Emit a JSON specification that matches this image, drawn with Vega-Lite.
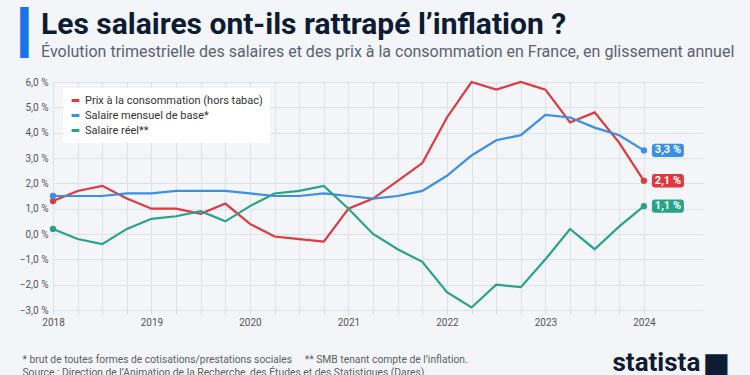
{
  "$schema": "https://vega.github.io/schema/vega-lite/v6.json",
  "autosize": {"type": "none"},
  "width": 650,
  "height": 228,
  "padding": {"left": 53, "top": 82, "right": 47, "bottom": 65},
  "background": "#f3f5f9",
  "config": {"view": {"stroke": null}, "font": "Roboto"},
  "title": {
    "text": "Les salaires ont-ils rattrapé l’inflation ?",
    "subtitle": "Évolution trimestrielle des salaires et des prix à la consommation en France, en glissement annuel",
    "anchor": "start",
    "frame": "group",
    "dx": -12,
    "dy": 48,
    "offset": 0,
    "font": "Roboto",
    "fontSize": 30,
    "fontWeight": 700,
    "color": "#0d1b33",
    "subtitleFont": "Roboto",
    "subtitleFontSize": 16,
    "subtitleColor": "#5b6270",
    "subtitlePadding": 4
  },
  "data": {
    "values": [
      {"t": 2018, "s": "Prix à la consommation (hors tabac)", "v": 1.3},
      {"t": 2018.25, "s": "Prix à la consommation (hors tabac)", "v": 1.7},
      {"t": 2018.5, "s": "Prix à la consommation (hors tabac)", "v": 1.9},
      {"t": 2018.75, "s": "Prix à la consommation (hors tabac)", "v": 1.4},
      {"t": 2019, "s": "Prix à la consommation (hors tabac)", "v": 1.0},
      {"t": 2019.25, "s": "Prix à la consommation (hors tabac)", "v": 1.0},
      {"t": 2019.5, "s": "Prix à la consommation (hors tabac)", "v": 0.8},
      {"t": 2019.75, "s": "Prix à la consommation (hors tabac)", "v": 1.2},
      {"t": 2020, "s": "Prix à la consommation (hors tabac)", "v": 0.4},
      {"t": 2020.25, "s": "Prix à la consommation (hors tabac)", "v": -0.1},
      {"t": 2020.5, "s": "Prix à la consommation (hors tabac)", "v": -0.2},
      {"t": 2020.75, "s": "Prix à la consommation (hors tabac)", "v": -0.3},
      {"t": 2021, "s": "Prix à la consommation (hors tabac)", "v": 1.0},
      {"t": 2021.25, "s": "Prix à la consommation (hors tabac)", "v": 1.4},
      {"t": 2021.5, "s": "Prix à la consommation (hors tabac)", "v": 2.1},
      {"t": 2021.75, "s": "Prix à la consommation (hors tabac)", "v": 2.8},
      {"t": 2022, "s": "Prix à la consommation (hors tabac)", "v": 4.6},
      {"t": 2022.25, "s": "Prix à la consommation (hors tabac)", "v": 6.0},
      {"t": 2022.5, "s": "Prix à la consommation (hors tabac)", "v": 5.7},
      {"t": 2022.75, "s": "Prix à la consommation (hors tabac)", "v": 6.0},
      {"t": 2023, "s": "Prix à la consommation (hors tabac)", "v": 5.7},
      {"t": 2023.25, "s": "Prix à la consommation (hors tabac)", "v": 4.4},
      {"t": 2023.5, "s": "Prix à la consommation (hors tabac)", "v": 4.8},
      {"t": 2023.75, "s": "Prix à la consommation (hors tabac)", "v": 3.6},
      {"t": 2024, "s": "Prix à la consommation (hors tabac)", "v": 2.1},
      {"t": 2018, "s": "Salaire mensuel de base*", "v": 1.5},
      {"t": 2018.25, "s": "Salaire mensuel de base*", "v": 1.5},
      {"t": 2018.5, "s": "Salaire mensuel de base*", "v": 1.5},
      {"t": 2018.75, "s": "Salaire mensuel de base*", "v": 1.6},
      {"t": 2019, "s": "Salaire mensuel de base*", "v": 1.6},
      {"t": 2019.25, "s": "Salaire mensuel de base*", "v": 1.7},
      {"t": 2019.5, "s": "Salaire mensuel de base*", "v": 1.7},
      {"t": 2019.75, "s": "Salaire mensuel de base*", "v": 1.7},
      {"t": 2020, "s": "Salaire mensuel de base*", "v": 1.6},
      {"t": 2020.25, "s": "Salaire mensuel de base*", "v": 1.5},
      {"t": 2020.5, "s": "Salaire mensuel de base*", "v": 1.5},
      {"t": 2020.75, "s": "Salaire mensuel de base*", "v": 1.6},
      {"t": 2021, "s": "Salaire mensuel de base*", "v": 1.5},
      {"t": 2021.25, "s": "Salaire mensuel de base*", "v": 1.4},
      {"t": 2021.5, "s": "Salaire mensuel de base*", "v": 1.5},
      {"t": 2021.75, "s": "Salaire mensuel de base*", "v": 1.7},
      {"t": 2022, "s": "Salaire mensuel de base*", "v": 2.3},
      {"t": 2022.25, "s": "Salaire mensuel de base*", "v": 3.1},
      {"t": 2022.5, "s": "Salaire mensuel de base*", "v": 3.7},
      {"t": 2022.75, "s": "Salaire mensuel de base*", "v": 3.9},
      {"t": 2023, "s": "Salaire mensuel de base*", "v": 4.7},
      {"t": 2023.25, "s": "Salaire mensuel de base*", "v": 4.6},
      {"t": 2023.5, "s": "Salaire mensuel de base*", "v": 4.2},
      {"t": 2023.75, "s": "Salaire mensuel de base*", "v": 3.9},
      {"t": 2024, "s": "Salaire mensuel de base*", "v": 3.3},
      {"t": 2018, "s": "Salaire réel**", "v": 0.2},
      {"t": 2018.25, "s": "Salaire réel**", "v": -0.2},
      {"t": 2018.5, "s": "Salaire réel**", "v": -0.4},
      {"t": 2018.75, "s": "Salaire réel**", "v": 0.2},
      {"t": 2019, "s": "Salaire réel**", "v": 0.6},
      {"t": 2019.25, "s": "Salaire réel**", "v": 0.7},
      {"t": 2019.5, "s": "Salaire réel**", "v": 0.9},
      {"t": 2019.75, "s": "Salaire réel**", "v": 0.5},
      {"t": 2020, "s": "Salaire réel**", "v": 1.1},
      {"t": 2020.25, "s": "Salaire réel**", "v": 1.6},
      {"t": 2020.5, "s": "Salaire réel**", "v": 1.7},
      {"t": 2020.75, "s": "Salaire réel**", "v": 1.9},
      {"t": 2021, "s": "Salaire réel**", "v": 1.0},
      {"t": 2021.25, "s": "Salaire réel**", "v": 0.0},
      {"t": 2021.5, "s": "Salaire réel**", "v": -0.6},
      {"t": 2021.75, "s": "Salaire réel**", "v": -1.1},
      {"t": 2022, "s": "Salaire réel**", "v": -2.3},
      {"t": 2022.25, "s": "Salaire réel**", "v": -2.9},
      {"t": 2022.5, "s": "Salaire réel**", "v": -2.0},
      {"t": 2022.75, "s": "Salaire réel**", "v": -2.1},
      {"t": 2023, "s": "Salaire réel**", "v": -1.0},
      {"t": 2023.25, "s": "Salaire réel**", "v": 0.2},
      {"t": 2023.5, "s": "Salaire réel**", "v": -0.6},
      {"t": 2023.75, "s": "Salaire réel**", "v": 0.3},
      {"t": 2024, "s": "Salaire réel**", "v": 1.1}
    ]
  },
  "encoding": {
    "x": {"field": "t", "type": "quantitative", "scale": {"domain": [2018, 2024.6], "nice": false, "zero": false}, "axis": null},
    "y": {"field": "v", "type": "quantitative", "scale": {"domain": [-3, 6], "nice": false}, "axis": null},
    "color": {
      "field": "s", "type": "nominal",
      "scale": {"domain": ["Prix à la consommation (hors tabac)", "Salaire mensuel de base*", "Salaire réel**"], "range": ["#e0393d", "#3a8fe6", "#28a388"]},
      "legend": {
        "orient": "none", "legendX": 10, "legendY": 6, "title": null,
        "fillColor": "white", "padding": 7, "cornerRadius": 2,
        "labelFont": "Roboto", "labelFontSize": 11, "labelColor": "#333333", "labelLimit": 400,
        "symbolType": "M-1,-0.4L1,-0.4L1,0.4L-1,0.4Z", "symbolSize": 60, "symbolStrokeWidth": 0,
        "rowPadding": 3, "labelOffset": 4
      }
    }
  },
  "layer": [
    {
      "mark": {"type": "line", "strokeWidth": 2.2},
      "encoding": {
        "x": {"field": "t", "type": "quantitative",
          "axis": {
            "values": [2018, 2018.25, 2018.5, 2018.75, 2019, 2019.25, 2019.5, 2019.75, 2020, 2020.25, 2020.5, 2020.75, 2021, 2021.25, 2021.5, 2021.75, 2022, 2022.25, 2022.5, 2022.75, 2023, 2023.25, 2023.5, 2023.75, 2024],
            "labelExpr": "datum.value % 1 == 0 ? format(datum.value, 'd') : ''",
            "labelOverlap": false, "labelFlush": false,
            "grid": true, "gridColor": "#dde1e8", "domain": false,
            "tickColor": "#d3d7de", "tickSize": 4,
            "labelFontSize": 10, "labelColor": "#555555", "labelPadding": 3,
            "title": ["* brut de toutes formes de cotisations/prestations sociales\u00a0\u00a0\u00a0\u00a0\u00a0** SMB tenant compte de l’inflation.", "Source : Direction de l’Animation de la Recherche, des Études et des Statistiques (Dares)"],
            "titleAnchor": "start", "titleAlign": "left", "titleX": -31, "titleY": 52,
            "titleBaseline": "alphabetic", "titleFontSize": 10.3, "titleFontWeight": "normal",
            "titleColor": "#5e5e5e", "titleLineHeight": 13
          }
        },
        "y": {"field": "v", "type": "quantitative",
          "axis": {
            "values": [-3, -2, -1, 0, 1, 2, 3, 4, 5, 6],
            "labelExpr": "replace(format(datum.value, '.1f'), '.', ',') + ' %'",
            "grid": true, "gridColor": "#dde1e8", "domain": false, "ticks": false,
            "labelFontSize": 10, "labelColor": "#555555", "labelPadding": 5,
            "title": "▎", "titleFont": "DejaVu Sans", "titleFontSize": 43, "titleFontWeight": "normal",
            "titleColor": "#1a73e8", "titleAngle": 0, "titleAlign": "left", "titleBaseline": "top",
            "titleX": -33, "titleY": -70
          }
        }
      }
    },
    {
      "transform": [{"filter": "datum.t == 2018 || datum.t == 2024"}],
      "mark": {"type": "point", "filled": true, "size": 40, "opacity": 1}
    },
    {
      "transform": [{"filter": "datum.t == 2024"}],
      "mark": {"type": "point", "filled": true, "opacity": 1, "size": 1024, "xOffset": 24,
        "shape": "M-0.81,-0.42L0.81,-0.42Q1,-0.42 1,-0.23L1,0.23Q1,0.42 0.81,0.42L-0.81,0.42Q-1,0.42 -1,0.23L-1,-0.23Q-1,-0.42 -0.81,-0.42Z"},
      "encoding": {
        "x": {"field": "t", "type": "quantitative",
          "axis": {"orient": "top", "labels": false, "ticks": false, "domain": false, "grid": false,
            "title": "■", "titleFont": "DejaVu Sans", "titleFontSize": 29, "titleFontWeight": "normal",
            "titleColor": "#0d1b33", "titleAngle": 0, "titleAlign": "left", "titleBaseline": "alphabetic",
            "titleX": 649, "titleY": 290}
        }
      }
    },
    {
      "transform": [
        {"filter": "datum.t == 2024"},
        {"calculate": "replace(format(datum.v, '.1f'), '.', ',') + ' %'", "as": "lab"}
      ],
      "mark": {"type": "text", "xOffset": 24, "color": "white", "fontWeight": "bold", "fontSize": 11, "font": "Roboto", "baseline": "middle", "align": "center"},
      "encoding": {
        "text": {"field": "lab"},
        "color": {"value": "white"},
        "y": {"field": "v", "type": "quantitative",
          "axis": {"orient": "right", "labels": false, "ticks": false, "domain": false, "grid": false,
            "title": "statista", "titleFont": "Roboto", "titleFontSize": 26, "titleFontWeight": "bold",
            "titleColor": "#0d1b33", "titleAngle": 0, "titleAlign": "left", "titleBaseline": "alphabetic",
            "titleX": -91, "titleY": 288}
        }
      }
    }
  ],
  "resolve": {"axis": {"x": "independent", "y": "independent"}}
}
